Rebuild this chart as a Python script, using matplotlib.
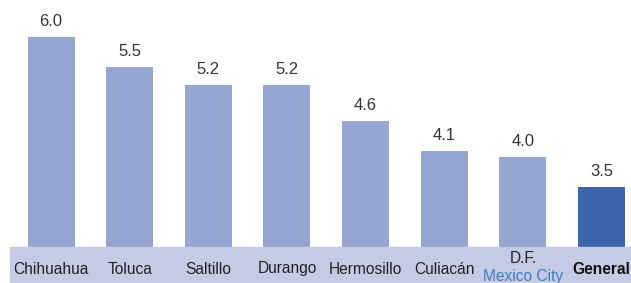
import matplotlib
matplotlib.use("Agg")
import matplotlib.pyplot as plt
from matplotlib.patches import Rectangle

categories = ["Chihuahua", "Toluca", "Saltillo", "Durango", "Hermosillo", "Culiacán", "D.F.", "General"]
values = [6.0, 5.5, 5.2, 5.2, 4.6, 4.1, 4.0, 3.5]
value_labels = ["6.0", "5.5", "5.2", "5.2", "4.6", "4.1", "4.0", "3.5"]
sub_label = "Mexico City"

W, H = 631, 283
fig = plt.figure(figsize=(W / 100, H / 100), dpi=100)
plt.rcParams['font.family'] = ['Liberation Sans', 'DejaVu Sans']

# lavender band
fig.patches.append(Rectangle((10 / W, 0), 1 - 10 / W, (H - 247) / H,
                             transform=fig.transFigure, color="#c5cbe5", zorder=0))

ax = fig.add_axes([10 / W, (H - 248) / H, 1 - 10 / W, 248 / H])
ax.set_facecolor("none")
base = 2.48
ax.set_ylim(base, base + 248 / 60)
spacing = 78.65
ax.set_xlim(-(51 - 10) / spacing, (631 - 51) / spacing)

colors = ["#94a6d1"] * 7 + ["#3b66ad"]
x = list(range(len(categories)))
ax.bar(x, [v - base for v in values], bottom=base, width=47 / spacing, color=colors, zorder=2)

for i, (v, lab) in enumerate(zip(values, value_labels)):
    ax.text(i, v + 0.13, lab, ha="center", va="bottom", fontsize=12, color="#333333")

for s in ax.spines.values():
    s.set_visible(False)
ax.set_xticks([])
ax.set_yticks([])

fs = 11.2
for i, c in enumerate(categories):
    xf = ax.transData.transform((i, base))[0] / W
    if c == "D.F.":
        fig.text(xf, (H - 263) / H, c, ha="center", va="baseline", fontsize=fs, color="#222222")
        fig.text(xf, (H - 281) / H, sub_label, ha="center", va="baseline", fontsize=fs, color="#3a7dc2")
    elif c == "General":
        fig.text(xf, (H - 274) / H, c, ha="center", va="baseline", fontsize=fs, color="#111111", fontweight="bold")
    else:
        fig.text(xf, (H - 273.5) / H, c, ha="center", va="baseline", fontsize=fs, color="#222222")

fig.savefig("out.png", dpi=100)
